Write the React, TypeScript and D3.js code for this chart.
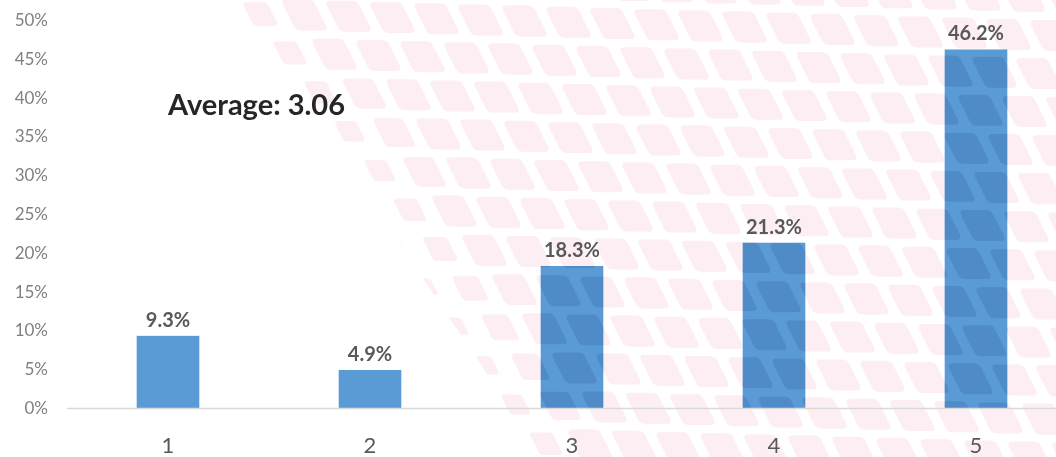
import React, { useEffect, useRef } from 'react';
import * as d3 from 'd3';

// chart data
const categories = ['1', '2', '3', '4', '5'];
const shares = [9.3, 4.9, 18.3, 21.3, 46.2];
const yTicks = [0, 5, 10, 15, 20, 25, 30, 35, 40, 45, 50];
const averageLabel = 'Average: 3.06';

const W = 1056;
const H = 457;

function App() {
  const svgRef = useRef<SVGSVGElement>(null);

  useEffect(() => {
    const svg = d3.select(svgRef.current);
    svg.selectAll('*').remove();

    const x = d3.scaleBand<string>()
      .domain(categories)
      .range([67, 1077])
      .paddingInner(0.69)
      .paddingOuter(0.345);

    const y = d3.scaleLinear().domain([0, 50]).range([408, 20]);

    // background decoration: pink rounded parallelograms right of a curve
    const edgePts: [number, number][] = [
      [213, 0], [267, 60], [340, 140], [393, 230], [437, 300], [490, 380], [523, 457]
    ];
    const edgeX = d3.scaleLinear()
      .domain(edgePts.map(p => p[1]))
      .range(edgePts.map(p => p[0]));

    const defs = svg.append('defs');
    const edge = d3.line().curve(d3.curveMonotoneY)([
      [200, -10], ...edgePts, [530, 470]
    ]);
    defs.append('clipPath').attr('id', 'deco-clip')
      .append('path').attr('d', `${edge} L${W},470 L${W},-10 Z`);

    const cells: [number, number, number][] = [];
    for (let r = -2; r < 14; r++) {
      for (let c = -3; c < 30; c++) {
        const cx = 150 + c * 44 - r * 14;
        const cy = -4 + r * 38 + c * 1.2;
        if (cx < 150 || cx > W + 30) continue;
        const dist = cx + 21 - edgeX(Math.max(0, cy + 14));
        const s = Math.max(0.45, Math.min(1, 0.55 + dist / 160));
        cells.push([cx, cy, s]);
      }
    }
    // one rounded parallelogram, about 44 wide and 31 tall, scaled round its centre
    const shape = (d: [number, number, number]) => {
      const [cx, cy, s] = d;
      const p = (u: number, v: number) =>
        `${(cx + 21 + (u - 21) * s).toFixed(1)},${(cy + 15 + (v - 15) * s).toFixed(1)}`;
      return `M${p(4, 0)} L${p(26, 0)} Q${p(31, 0)} ${p(33, 4)}` +
        ` L${p(44, 26)} Q${p(46, 31)} ${p(41, 31)}` +
        ` L${p(19, 31)} Q${p(14, 31)} ${p(12, 27)}` +
        ` L${p(1, 5)} Q${p(-1, 0)} ${p(4, 0)} Z`;
    };

    svg.append('g')
      .attr('clip-path', 'url(#deco-clip)')
      .selectAll('path')
      .data(cells)
      .enter().append('path')
      .attr('d', shape)
      .attr('fill', '#fceef3');

    // y tick labels
    svg.append('g')
      .selectAll('text')
      .data(yTicks)
      .enter().append('text')
      .attr('x', 48)
      .attr('y', d => y(d) + 6)
      .attr('text-anchor', 'end')
      .attr('font-family', 'Lato, sans-serif')
      .attr('font-size', 17)
      .attr('fill', '#808080')
      .text(d => d + '%');

    // bars
    svg.append('g')
      .selectAll('rect')
      .data(shares)
      .enter().append('rect')
      .attr('x', (d, i) => x(categories[i]) as number)
      .attr('y', d => y(d))
      .attr('width', x.bandwidth())
      .attr('height', d => y(0) - y(d))
      .attr('fill', '#5b9bd5');

    // pattern showing through the bars as a darker tint
    const barClip = defs.append('clipPath').attr('id', 'bar-clip');
    barClip.selectAll('rect')
      .data(shares)
      .enter().append('rect')
      .attr('x', (d, i) => x(categories[i]) as number)
      .attr('y', d => y(d))
      .attr('width', x.bandwidth())
      .attr('height', d => y(0) - y(d));
    svg.append('g')
      .style('mix-blend-mode', 'multiply')
      .attr('clip-path', 'url(#bar-clip)')
      .append('g')
      .attr('clip-path', 'url(#deco-clip)')
      .selectAll('path')
      .data(cells)
      .enter().append('path')
      .attr('d', shape)
      .attr('fill', '#dee4ef');

    // baseline
    svg.append('line')
      .attr('x1', 67)
      .attr('x2', W)
      .attr('y1', y(0) + 0.5)
      .attr('y2', y(0) + 0.5)
      .attr('stroke', '#d9d9d9')
      .attr('stroke-width', 1.5);

    // value labels
    svg.append('g')
      .selectAll('text')
      .data(shares)
      .enter().append('text')
      .attr('x', (d, i) => (x(categories[i]) as number) + x.bandwidth() / 2)
      .attr('y', d => y(d) - 9)
      .attr('text-anchor', 'middle')
      .attr('font-family', 'Lato, sans-serif')
      .attr('font-weight', 'bold')
      .attr('font-size', 20)
      .attr('fill', '#595959')
      .text(d => d.toFixed(1) + '%');

    // category labels
    svg.append('g')
      .selectAll('text')
      .data(categories)
      .enter().append('text')
      .attr('x', d => (x(d) as number) + x.bandwidth() / 2)
      .attr('y', 453)
      .attr('text-anchor', 'middle')
      .attr('font-family', 'Lato, sans-serif')
      .attr('font-size', 22)
      .attr('fill', '#595959')
      .text(d => d);

    // average annotation
    svg.append('text')
      .attr('x', 168)
      .attr('y', 115)
      .attr('font-family', 'Lato, sans-serif')
      .attr('font-weight', 'bold')
      .attr('font-size', 29)
      .attr('fill', '#262626')
      .text(averageLabel);
  }, []);

  return (
    <svg ref={svgRef} width={W} height={H}
      style={{ position: 'absolute', left: 0, top: 0, background: '#fff' }} />
  );
}

export default App;
